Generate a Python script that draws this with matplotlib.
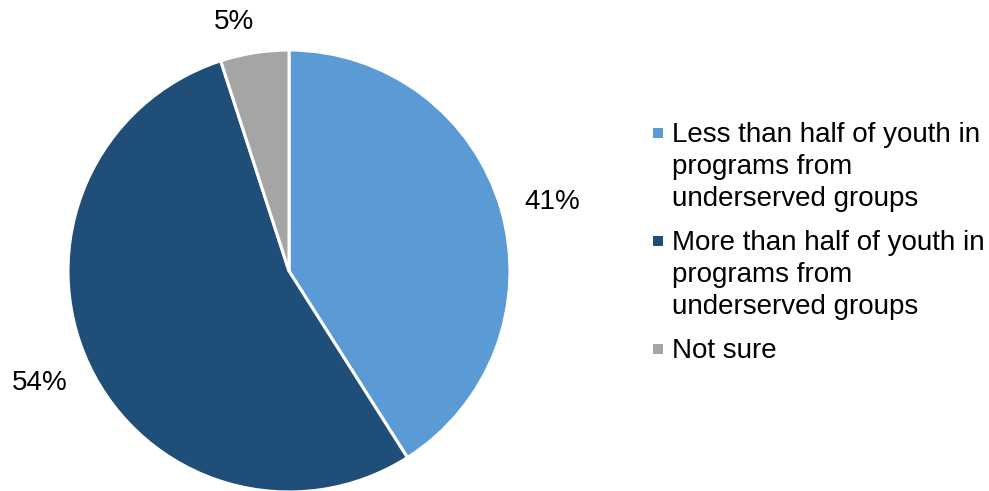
import numpy as np
import matplotlib
matplotlib.use("Agg")
import matplotlib.pyplot as plt
from matplotlib.patches import Rectangle

plt.rcParams['font.family'] = ['Liberation Sans', 'DejaVu Sans']

categories = [
    "Less than half of youth in\nprograms from\nunderserved groups",
    "More than half of youth in\nprograms from\nunderserved groups",
    "Not sure",
]
values = [41, 54, 5]
colors = ["#5B9BD5", "#1F4E79", "#A5A5A5"]
label_dist = [1.23, 1.235, 1.155]
label_turn = [-1.5, -1.0, 3.5]   # degrees, small nudges of the percent labels

W, H = 989, 491
fig = plt.figure(figsize=(W / 100, H / 100), dpi=100)

# pie axes placed in pixel units (y measured from the top edge)
r_px = 221
cx, cy = 289, 271
ax = fig.add_axes([(cx - r_px) / W, (H - cy - r_px) / H, 2 * r_px / W, 2 * r_px / H])

wedges, _ = ax.pie(values, colors=colors, startangle=90, counterclock=False,
                   radius=1, wedgeprops=dict(edgecolor="white", linewidth=2.2))
ax.set_xlim(-1, 1)
ax.set_ylim(-1, 1)
ax.set_aspect("auto")
ax.axis("off")

for w, v, d, t in zip(wedges, values, label_dist, label_turn):
    mid = np.deg2rad((w.theta1 + w.theta2) / 2 + t)
    ax.text(d * np.cos(mid), d * np.sin(mid), f"{v}%", ha="center", va="center",
            fontsize=20, color="#000000", clip_on=False)

# legend drawn by hand: square marker beside the first line of each entry
text_x = 672
marker_x = 653
marker_size = 9.5
baseline = 142
line_step = 32
entry_gap = 12


def fx(px):
    return px / W


def fy(py):
    return 1 - py / H


for label, color in zip(categories, colors):
    lines = label.split("\n")
    mc = baseline - 9
    fig.patches.append(Rectangle((fx(marker_x), fy(mc + marker_size / 2)),
                                 marker_size / W, marker_size / H,
                                 transform=fig.transFigure, facecolor=color,
                                 edgecolor="none"))
    for i, line in enumerate(lines):
        fig.text(fx(text_x), fy(baseline + i * line_step), line,
                 ha="left", va="baseline", fontsize=20, color="#000000")
    baseline += len(lines) * line_step + entry_gap

fig.savefig("out.png", dpi=100)
